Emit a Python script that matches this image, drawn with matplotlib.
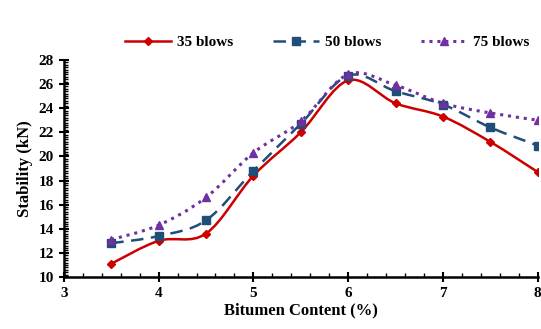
import numpy as np
import matplotlib
matplotlib.use("Agg")
import matplotlib.pyplot as plt
from matplotlib.path import Path
from matplotlib.patches import PathPatch
from matplotlib.ticker import MultipleLocator

plt.rcParams['font.family'] = ['Liberation Serif', 'DejaVu Serif']
plt.rcParams['font.weight'] = 'bold'

bitumen = [3.5, 4.0, 4.5, 5.0, 5.5, 6.0, 6.5, 7.0, 7.5, 8.0]
blows_35 = [11.1, 13.0, 13.6, 18.4, 22.0, 26.3, 24.4, 23.3, 21.2, 18.7]
blows_50 = [12.8, 13.4, 14.7, 18.8, 22.7, 26.7, 25.4, 24.3, 22.4, 20.9]
blows_75 = [13.1, 14.3, 16.6, 20.3, 22.9, 26.8, 25.9, 24.4, 23.6, 23.0]
labels = ['35 blows', '50 blows', '75 blows']


def smooth_path(x, y):
    # Excel-like smoothed line: Catmull-Rom segments as cubic Bezier curves
    x = np.asarray(x, float)
    y = np.asarray(y, float)
    pts = np.column_stack([x, y])
    verts = [pts[0]]
    codes = [Path.MOVETO]
    n = len(pts)
    for i in range(n - 1):
        p0 = pts[i - 1] if i > 0 else pts[i]
        p1 = pts[i]
        p2 = pts[i + 1]
        p3 = pts[i + 2] if i + 2 < n else pts[i + 1]
        c1 = p1 + (p2 - p0) / 6.0
        c2 = p2 - (p3 - p1) / 6.0
        verts += [c1, c2, p2]
        codes += [Path.CURVE4] * 3
    return Path(verts, codes)


fig = plt.figure(figsize=(5.41, 3.29), dpi=100)
ax = fig.add_axes([0.118, 0.158, 0.876, 0.66])

styles = [
    dict(color='#CC0000', ls='-', lw=1.8, marker='D', ms=4.5),
    dict(color='#1F4E79', ls=(0, (5, 3)), lw=1.8, marker='s', ms=5.5),
    dict(color='#7030A0', ls=(0, (1, 1.6)), lw=2.2, marker='^', ms=6),
]

for ys, lab, st in zip([blows_35, blows_50, blows_75], labels, styles):
    patch = PathPatch(smooth_path(bitumen, ys), facecolor='none',
                      edgecolor=st['color'], lw=st['lw'], ls=st['ls'],
                      zorder=2)
    ax.add_patch(patch)
    ax.plot(bitumen, ys, ls='none', marker=st['marker'], ms=st['ms'],
            color=st['color'], zorder=3)
    # legend proxy
    ax.plot([], [], color=st['color'], ls=st['ls'], lw=st['lw'],
            marker=st['marker'], ms=st['ms'], label=lab)

ax.set_xlim(3, 8)
ax.set_ylim(10, 28)
ax.xaxis.set_major_locator(MultipleLocator(1))
ax.xaxis.set_minor_locator(MultipleLocator(0.2))
ax.yaxis.set_major_locator(MultipleLocator(2))
ax.yaxis.set_minor_locator(MultipleLocator(0.2))
ax.tick_params(which='major', direction='inout', length=7, width=1.5,
               labelsize=11)
ax.tick_params(which='minor', direction='in', length=3, width=1)
for s in ['top', 'right']:
    ax.spines[s].set_visible(False)
for s in ['left', 'bottom']:
    ax.spines[s].set_linewidth(1.8)

ax.set_xlabel('Bitumen Content (%)', fontsize=12, fontweight='bold',
              labelpad=2)
ax.set_ylabel('Stability (kN)', fontsize=12, fontweight='bold', labelpad=4)

fig.legend(*ax.get_legend_handles_labels(), loc='center',
           bbox_to_anchor=(0.605, 0.872), ncol=3, frameon=False,
           handlelength=3.0, columnspacing=2.6, handletextpad=0.4,
           prop={'weight': 'bold', 'size': 11})

fig.savefig('out.png', dpi=100)
